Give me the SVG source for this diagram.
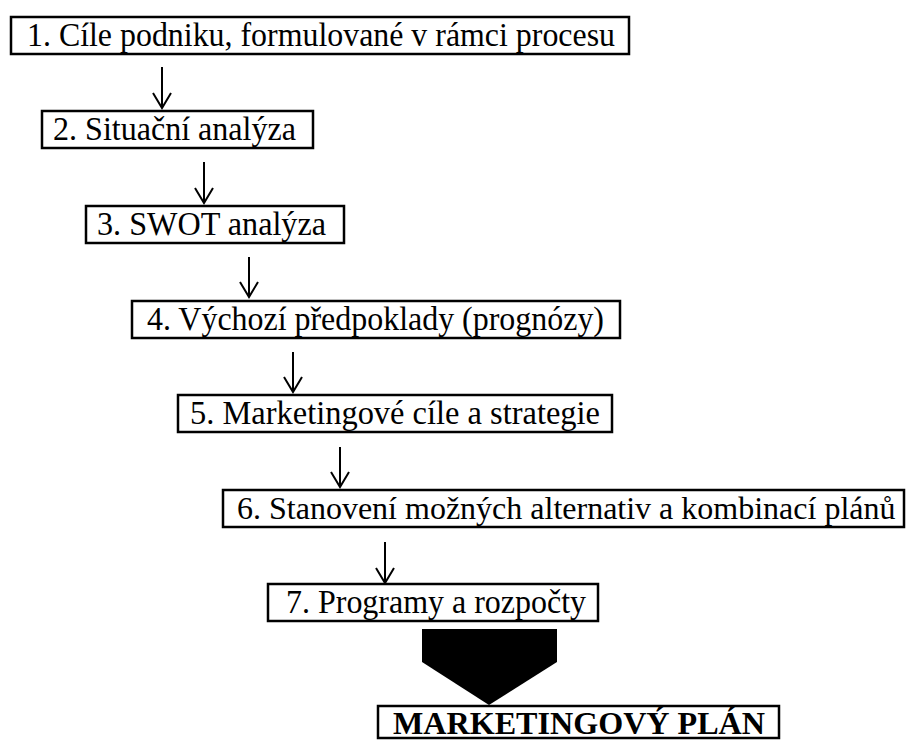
<svg xmlns="http://www.w3.org/2000/svg" width="908" height="740" viewBox="0 0 908 740">
<style>
.box{fill:#fff;stroke:#000;stroke-width:2.5}
.t{font-family:"Liberation Serif","Times New Roman",serif;font-size:33px;fill:#000}
.b{font-weight:bold;font-size:31px}
.ln{fill:none;stroke:#000;stroke-width:2}
</style>
<rect width="908" height="740" fill="#fff"/>
<g id="connectors">
<path class="ln" d="M162,67V108M153,93L162,108L171,93"/>
<path class="ln" d="M204,162V203M195,188L204,203L213,188"/>
<path class="ln" d="M249,257V297M240,282L249,297L258,282"/>
<path class="ln" d="M293,352V392M284,377L293,392L302,377"/>
<path class="ln" d="M340,447V487M331,472L340,487L349,472"/>
<path class="ln" d="M385,542V583M376,568L385,583L394,568"/>
<polygon points="422,629 557,629 557,662 489,705 422,662" fill="#000"/>
</g>
<g id="n1"><rect class="box" x="11" y="17" width="618" height="37"/><text class="t" x="27" y="46" textLength="588" lengthAdjust="spacingAndGlyphs">1. Cíle podniku, formulované v rámci procesu</text></g>
<g id="n2"><rect class="box" x="42" y="111" width="271" height="37"/><text class="t" x="53" y="140" textLength="243" lengthAdjust="spacingAndGlyphs">2. Situační analýza</text></g>
<g id="n3"><rect class="box" x="86" y="206" width="258" height="37"/><text class="t" x="97" y="235" textLength="229" lengthAdjust="spacingAndGlyphs">3. SWOT analýza</text></g>
<g id="n4"><rect class="box" x="132" y="301" width="488" height="37"/><text class="t" x="147" y="330" textLength="457" lengthAdjust="spacingAndGlyphs">4. Výchozí předpoklady (prognózy)</text></g>
<g id="n5"><rect class="box" x="178" y="395" width="434" height="37"/><text class="t" x="190" y="424" textLength="410" lengthAdjust="spacingAndGlyphs">5. Marketingové cíle a strategie</text></g>
<g id="n6"><rect class="box" x="223" y="490" width="681" height="37"/><text class="t" x="237" y="519" style="font-size:32px">6. Stanovení možných alternativ a kombinací plánů</text></g>
<g id="n7"><rect class="box" x="268" y="584" width="330" height="37"/><text class="t" x="286" y="613" textLength="300" lengthAdjust="spacingAndGlyphs">7. Programy a rozpočty</text></g>
<g id="n8"><rect class="box" x="378" y="706" width="401" height="32"/><text class="t b" x="393" y="734" textLength="372" lengthAdjust="spacingAndGlyphs">MARKETINGOVÝ PLÁN</text></g>
</svg>
